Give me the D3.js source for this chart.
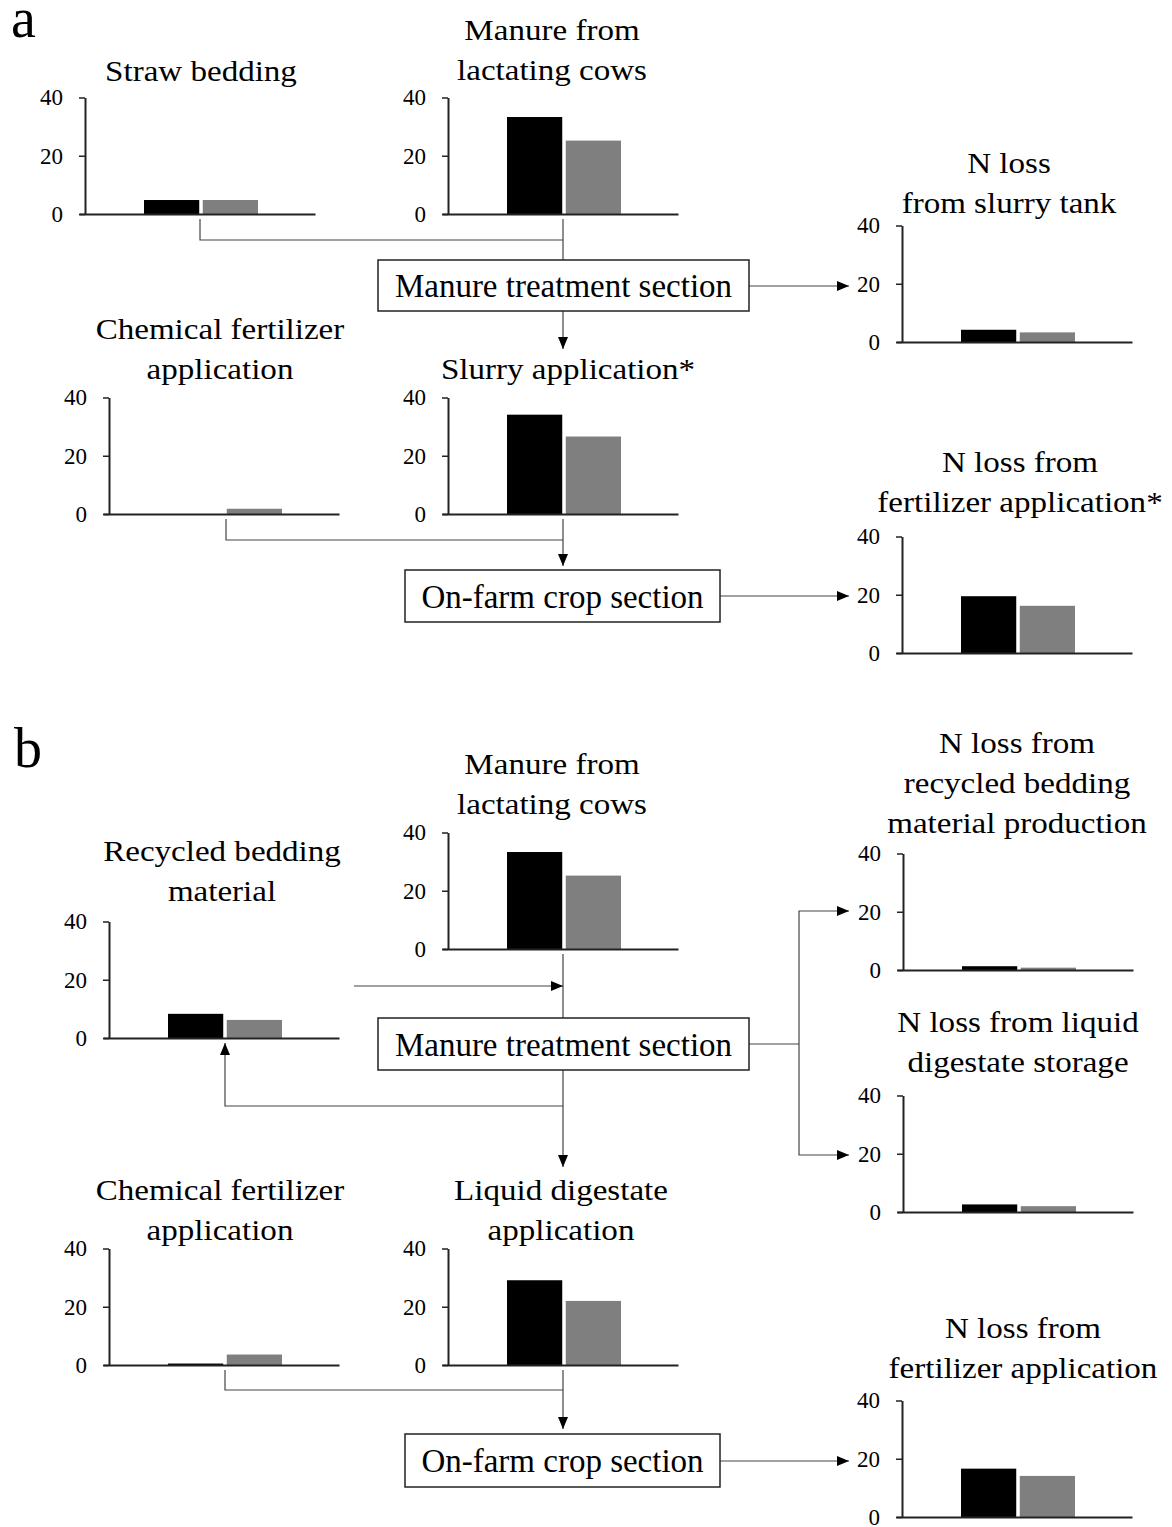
<!DOCTYPE html>
<html>
<head>
<meta charset="utf-8">
<script src="https://cdn.jsdelivr.net/npm/d3@7"></script>
<style>
  body { margin: 0; background: #fff; }
  text { font-family: "Liberation Serif", "Times New Roman", serif; fill: #000; }
</style>
</head>
<body>
<script>
'use strict';

// titles of the small bar charts (line breaks marked with |)
const chartTitles = [
  "Straw bedding",
  "Manure from|lactating cows",
  "N loss|from slurry tank",
  "Chemical fertilizer|application",
  "Slurry application*",
  "N loss from|fertilizer application*",
  "Manure from|lactating cows",
  "Recycled bedding|material",
  "N loss from|recycled bedding|material production",
  "N loss from liquid|digestate storage",
  "Chemical fertilizer|application",
  "Liquid digestate|application",
  "N loss from|fertilizer application"
];
// black bars and gray bars, same order as the titles
const blackValues = [4.8, 33.3, 4.2, 0, 34.1, 19.5, 33.3, 8.3, 1.3, 2.6, 0.5, 29.1, 16.6];
const grayValues  = [4.8, 25.2, 3.3, 1.8, 26.6, 16.2, 25.2, 6.2, 0.8, 2.0, 3.6, 22.0, 14.1];
const tickValues = [0, 20, 40];
const boxLabels = ["Manure treatment section", "On-farm crop section",
                   "Manure treatment section", "On-farm crop section"];
const panelLabels = ["a", "b"];

// layout: axis x, zero line y, title centre and first baseline
const chartPos = [
  {ax: 85,  y0: 214,  tx: 201,  ty: 81},
  {ax: 448, y0: 214,  tx: 552,  ty: 40},
  {ax: 902, y0: 342,  tx: 1009, ty: 173},
  {ax: 109, y0: 514,  tx: 220,  ty: 339},
  {ax: 448, y0: 514,  tx: 568,  ty: 379},
  {ax: 902, y0: 653,  tx: 1020, ty: 472},
  {ax: 448, y0: 949,  tx: 552,  ty: 774},
  {ax: 109, y0: 1038, tx: 222,  ty: 861},
  {ax: 903, y0: 970,  tx: 1017, ty: 753},
  {ax: 903, y0: 1212, tx: 1018, ty: 1032},
  {ax: 109, y0: 1365, tx: 220,  ty: 1200},
  {ax: 448, y0: 1365, tx: 561,  ty: 1200},
  {ax: 902, y0: 1517, tx: 1023, ty: 1338}
];
const boxPos = [
  {x: 378, y: 260,  w: 371, h: 51},
  {x: 405, y: 570,  w: 315, h: 52},
  {x: 378, y: 1018, w: 371, h: 52},
  {x: 405, y: 1434, w: 315, h: 53}
];
const panelPos = [{x: 11, y: 37}, {x: 14, y: 767}];

// connector lines of the flow diagram
const links = [
  {pts: [[200, 219], [200, 240], [563, 240]]},
  {pts: [[563, 219], [563, 260]]},
  {pts: [[749, 286], [849, 286]], arrow: true},
  {pts: [[563, 311], [563, 349]], arrow: true},
  {pts: [[226, 519], [226, 540], [563, 540]]},
  {pts: [[563, 519], [563, 566]], arrow: true},
  {pts: [[720, 596], [849, 596]], arrow: true},
  {pts: [[563, 954], [563, 1018]]},
  {pts: [[354, 986], [563, 986]], arrow: true},
  {pts: [[749, 1044], [799, 1044]]},
  {pts: [[799, 1044], [799, 911], [849, 911]], arrow: true},
  {pts: [[799, 1044], [799, 1155], [849, 1155]], arrow: true},
  {pts: [[563, 1070], [563, 1167]], arrow: true},
  {pts: [[563, 1106], [225, 1106], [225, 1043]], arrow: true},
  {pts: [[225, 1370], [225, 1390], [563, 1390]]},
  {pts: [[563, 1370], [563, 1429]], arrow: true},
  {pts: [[720, 1461], [849, 1461]], arrow: true}
];

const svg = d3.select('body').append('svg')
  .attr('width', 1172)
  .attr('height', 1527);

svg.append('defs').append('marker')
  .attr('id', 'arrow')
  .attr('markerUnits', 'userSpaceOnUse')
  .attr('markerWidth', 13)
  .attr('markerHeight', 11)
  .attr('refX', 12)
  .attr('refY', 5)
  .attr('orient', 'auto')
  .append('path')
  .attr('d', 'M0,0L12,5L0,10Z')
  .attr('fill', '#000');

// flow lines
let line = d3.line();
svg.selectAll('.link')
  .data(links)
  .enter()
  .append('path')
  .attr('class', 'link')
  .attr('d', d => line(d.pts))
  .attr('fill', 'none')
  .attr('stroke', '#444')
  .attr('stroke-width', 1.2)
  .attr('marker-end', d => d.arrow ? 'url(#arrow)' : null);

// small bar charts
chartTitles.forEach(function (title, i) {
  let p = chartPos[i];
  let g = svg.append('g').attr('class', 'chart');

  let yScale = d3.scaleLinear().domain([0, 40]).range([p.y0, p.y0 - 116.5]);
  let xScale = d3.scaleLinear().domain([0, 1]).range([p.ax - 6, p.ax + 230]);
  let band = d3.scaleBand()
    .domain(['black', 'gray'])
    .range([p.ax + 59, p.ax + 173])
    .paddingInner(0.06);

  let vals = [{k: 'black', v: blackValues[i], c: '#000'},
              {k: 'gray', v: grayValues[i], c: '#7f7f7f'}];

  g.selectAll('rect')
    .data(vals)
    .enter()
    .append('rect')
    .attr('x', d => band(d.k))
    .attr('width', band.bandwidth())
    .attr('y', d => yScale(d.v))
    .attr('height', d => yScale(0) - yScale(d.v))
    .attr('fill', d => d.c);

  let yAxis = d3.axisLeft(yScale)
    .tickValues(tickValues)
    .tickSize(6)
    .tickSizeOuter(0)
    .tickPadding(16);
  let ya = g.append('g')
    .attr('transform', 'translate(' + p.ax + ',0)')
    .attr('color', '#222')
    .attr('font-family', null)
    .attr('font-size', null)
    .call(yAxis);
  ya.select('.domain').attr('stroke-width', 2);
  ya.selectAll('.tick line').attr('stroke-width', 1.5);
  ya.selectAll('text')
    .attr('fill', '#000')
    .style('font-size', '23px')
    .style('font-family', '"Liberation Serif", "Times New Roman", serif');

  let xAxis = d3.axisBottom(xScale).tickValues([]).tickSizeOuter(0);
  g.append('g')
    .attr('transform', 'translate(0,' + p.y0 + ')')
    .attr('color', '#222')
    .call(xAxis)
    .select('.domain')
    .attr('stroke-width', 2);

  // title lines, stretched horizontally like the source picture
  title.split('|').forEach(function (t, j) {
    g.append('text')
      .attr('transform', 'translate(' + p.tx + ',' + (p.ty + j * 40) + ') scale(1.14,1)')
      .attr('text-anchor', 'middle')
      .style('font-size', '29px')
      .text(t);
  });
});

// section boxes
boxLabels.forEach(function (label, i) {
  let b = boxPos[i];
  svg.append('rect')
    .attr('x', b.x)
    .attr('y', b.y)
    .attr('width', b.w)
    .attr('height', b.h)
    .attr('fill', '#fff')
    .attr('stroke', '#222')
    .attr('stroke-width', 1.5);
  svg.append('text')
    .attr('x', b.x + b.w / 2)
    .attr('y', b.y + b.h / 2 + 11.5)
    .attr('text-anchor', 'middle')
    .style('font-size', '33px')
    .text(label);
});

// panel letters
panelLabels.forEach(function (l, i) {
  svg.append('text')
    .attr('x', panelPos[i].x)
    .attr('y', panelPos[i].y)
    .style('font-size', '56px')
    .text(l);
});
</script>
</body>
</html>
